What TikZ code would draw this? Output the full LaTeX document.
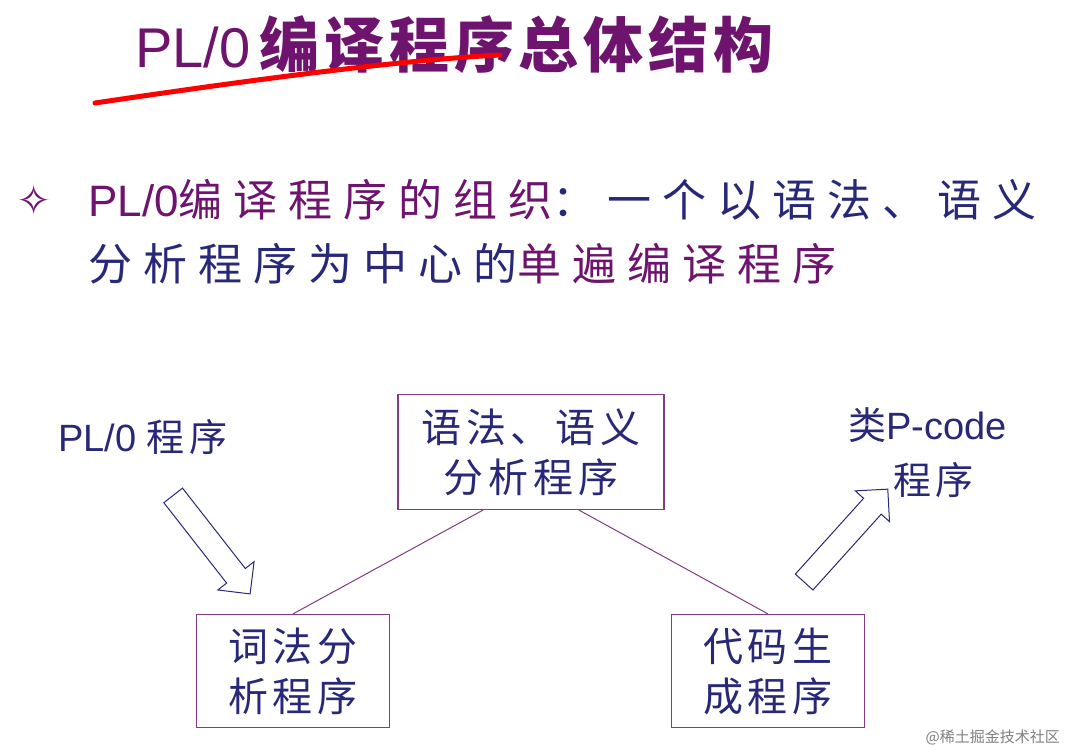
\documentclass[tikz,border=0pt]{standalone}
\usepackage{fontspec}
\setmainfont{Liberation Sans}
\newfontfamily\cjkt[LetterSpace=8]{Noto Sans CJK SC Black}
\newfontfamily\cjkbody[LetterSpace=25]{Noto Sans CJK SC}
\newfontfamily\cjkbox[LetterSpace=12]{Noto Sans CJK SC}
\newfontfamily\cjk{Noto Sans CJK SC}
\newfontfamily\sym{DejaVu Sans}
\usetikzlibrary{shapes.arrows}
\definecolor{tpurple}{RGB}{110,20,110}
\definecolor{tnavy}{RGB}{40,40,120}
\definecolor{bx}{RGB}{130,60,130}
\tikzset{
  box/.style={draw=bx,line width=1.2pt,minimum width=193pt,minimum height=113pt,align=center,font=\fontsize{40}{50}\selectfont\cjkbox,text=tnavy},
  lbl/.style={anchor=west,inner sep=0,text=tnavy,font=\fontsize{38}{40}\selectfont},
  harrow/.style={single arrow,draw=tnavy,fill=white,line width=1pt,minimum height=125pt,minimum width=46pt,single arrow head extend=8pt,inner sep=8pt},
  link/.style={draw=bx,line width=1pt}
}
\begin{document}
\begin{tikzpicture}[x=1pt,y=-1pt]
\useasboundingbox (0,0) rectangle (1066,752);
\fill[white] (0,0) rectangle (1066,752);
% title
\node[anchor=west,inner sep=0,text=tpurple] (title) at (135,45)
  {\fontsize{56}{60}\selectfont PL/0\,\fontsize{60}{60}\cjkt 编译程序总体结构};
\draw[red,line width=5pt,line cap=round] (95,103) .. controls (250,80) and (400,60) .. (500,55);
% bullet
\node[anchor=west,inner sep=0,text=tpurple] (bul) at (16,200) {\fontsize{42}{42}\selectfont\sym ✧};
\node[anchor=west,inner sep=0] (l1) at (88,200)
  {\fontsize{44}{44}\selectfont\color{tpurple}PL/0\cjkbody 编译程序的组织\color{tnavy}：一个以语法、语义};
\node[anchor=west,inner sep=0] (l2) at (88,264)
  {\fontsize{44}{44}\selectfont\cjkbody\color{tnavy}分析程序为中心的\color{tpurple}单遍编译程序};
% diagram
\node[box,minimum width=266pt,minimum height=115pt] (syn) at (531,452) {语法、语义\\分析程序};
\node[box] (lex) at (293,671) {词法分\\析程序};
\node[box] (gen) at (768,671) {代码生\\成程序};
\draw[link] (syn.south) ++(-48,0) coordinate (s1) -- (lex.north) ;
\draw[link] (syn.south) ++(48,0) coordinate (s2) -- (gen.north);
\node[lbl] (src) at (58,437) {PL/0 \cjkbox 程序};
\node[lbl] (dst) at (848,425) {\cjk 类\rmfamily P-code};
\node[lbl] (dst2) at (893,480) {\cjkbox 程序};
\node[harrow,rotate=-52] (a1) at (208,540) {};
\node[harrow,rotate=48] (a2) at (842,540) {};
\node[anchor=east,inner sep=0,text=gray] (wm) at (1060,737) {\fontsize{15}{15}\selectfont\cjk @稀土掘金技术社区};
\end{tikzpicture}
\end{document}
